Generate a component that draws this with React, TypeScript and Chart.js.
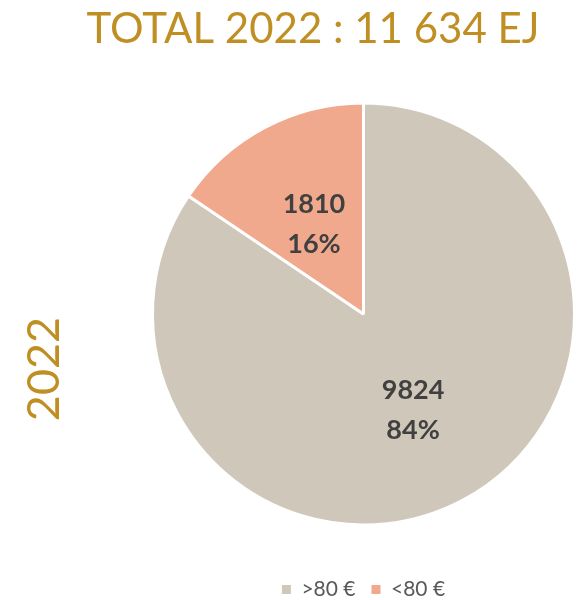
import React, { useEffect, useRef } from "react";
import { Chart, registerables } from "chart.js";

Chart.register(...registerables);

const categories = [">80 €", "<80 €"];
const values = [9824, 1810];
const percents = ["84%", "16%"];
const colors = ["#CFC7BA", "#F0A98D"];
const titleText = "TOTAL 2022 : 11 634 EJ";
const sideText = "2022";

const GOLD = "#BF8F24";
const FONT = "Lato, 'Open Sans', sans-serif";

const textPlugin = {
  id: "textPlugin",
  afterDraw(chart: any) {
    const ctx = chart.ctx;
    ctx.save();
    ctx.fillStyle = GOLD;
    ctx.textAlign = "center";
    ctx.textBaseline = "middle";
    ctx.font = `400 42px ${FONT}`;
    ctx.fillText(titleText, 313, 29);
    ctx.translate(44, 369);
    ctx.rotate(-Math.PI / 2);
    ctx.font = `400 45px ${FONT}`;
    ctx.fillText(sideText, 0, 0);
    ctx.restore();

    const meta = chart.getDatasetMeta(0);
    ctx.save();
    ctx.fillStyle = "#404040";
    ctx.textAlign = "center";
    ctx.textBaseline = "middle";
    ctx.font = `700 27px ${FONT}`;
    meta.data.forEach((arc: any, i: number) => {
      const p = arc.getCenterPoint();
      ctx.fillText(String(values[i]), p.x, p.y - 17);
      ctx.fillText(percents[i], p.x, p.y + 23);
    });
    ctx.restore();
  },
};

export default function App() {
  const ref = useRef<HTMLCanvasElement>(null);
  useEffect(() => {
    if (!ref.current) return;
    const defaultGen = (Chart as any).overrides.pie.plugins.legend.labels.generateLabels;
    const chart = new Chart(ref.current, {
      type: "pie",
      data: {
        labels: categories,
        datasets: [
          {
            data: values,
            backgroundColor: colors,
            borderColor: "#FFFFFF",
            borderWidth: 3,
          },
        ],
      },
      options: {
        responsive: false,
        animation: false,
        layout: { padding: { left: 151, right: 5, top: 65, bottom: -10 } },
        plugins: {
          tooltip: { enabled: false },
          legend: {
            position: "bottom",
            labels: {
              boxWidth: 9,
              boxHeight: 9,
              color: "#595959",
              font: { size: 21, family: FONT },
              padding: 16,
              generateLabels: (c: any) =>
                defaultGen(c).map((l: any) => ({ ...l, lineWidth: 0, strokeStyle: "rgba(0,0,0,0)" })),
            },
          },
        },
      },
      plugins: [textPlugin],
    });
    return () => chart.destroy();
  }, []);
  return (
    <div style={{ position: "absolute", left: 0, top: 0, width: 581, height: 600, background: "#fff" }}>
      <canvas ref={ref} width={581} height={600} style={{ width: 581, height: 600 }} />
    </div>
  );
}
